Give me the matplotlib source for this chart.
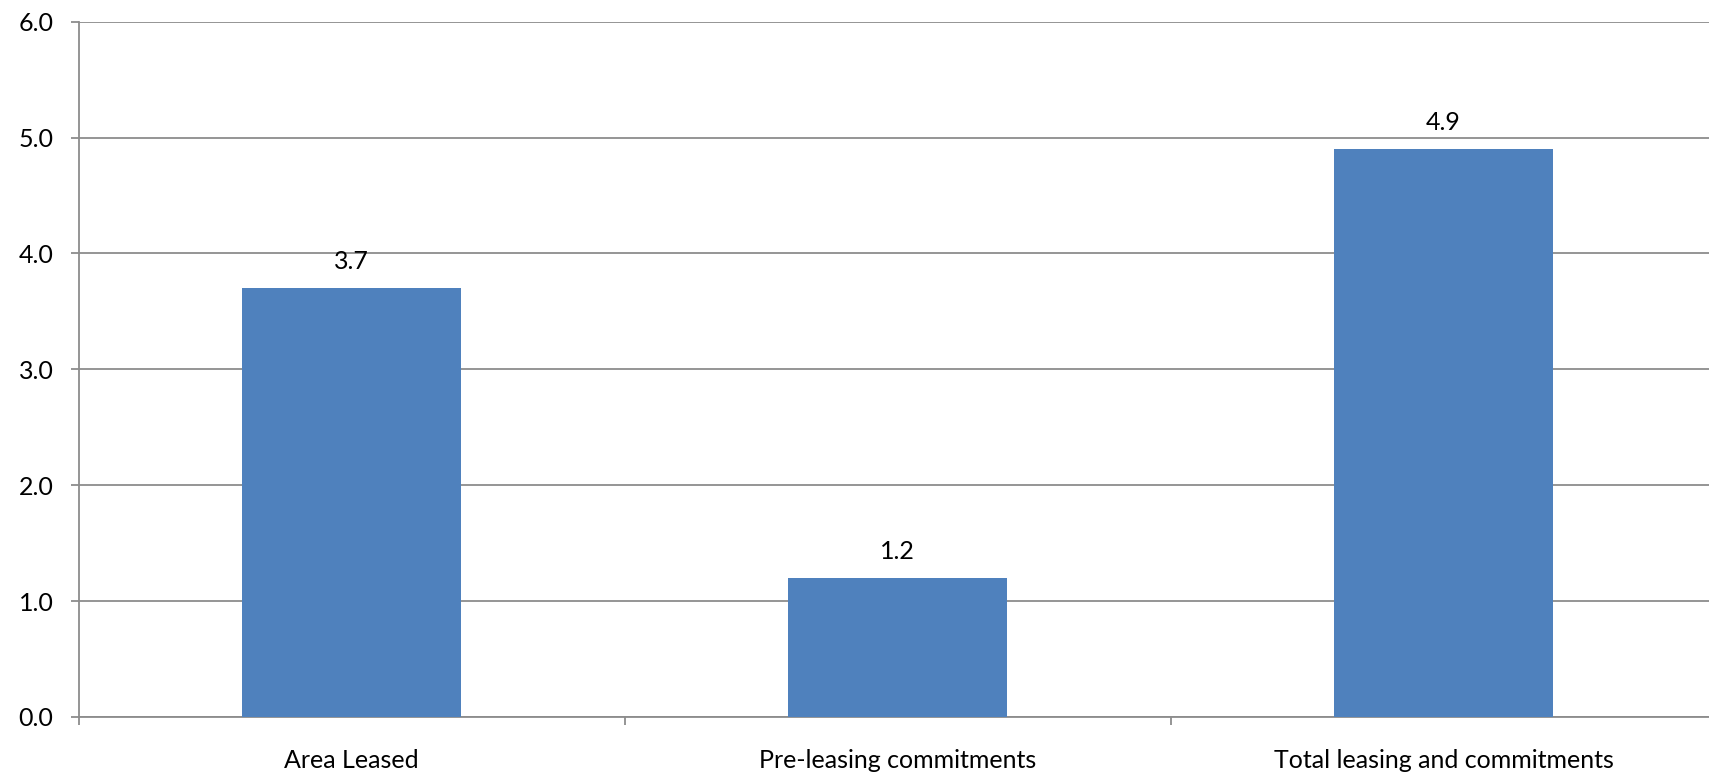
import matplotlib
matplotlib.use("Agg")
import matplotlib.pyplot as plt
from matplotlib.ticker import FixedLocator, FormatStrFormatter

categories = ["Area Leased", "Pre-leasing commitments", "Total leasing and commitments"]
values = [3.7, 1.2, 4.9]

plt.rcParams["font.family"] = ["Lato", "DejaVu Sans"]

W, H = 1709, 776
fig = plt.figure(figsize=(W / 100, H / 100), dpi=100)

# plot area runs past the right edge of the picture, like the reference
left_px, top_px, bottom_px = 78.5, 21.7, 717.0
cat_px = 546.0
ax = fig.add_axes([left_px / W, 1 - bottom_px / H, 1 - left_px / W, (bottom_px - top_px) / H])

grid_col = "#8c8c8c"
bar_col = "#4f81bd"

x = list(range(len(categories)))
ax.bar(x, values, width=0.4, color=bar_col, zorder=3)

for xi, v in zip(x, values):
    ax.annotate(f"{v:.1f}", (xi, v), xytext=(0, 13.5), textcoords="offset points",
                ha="center", va="baseline", fontsize=18, color="black")

ax.set_ylim(0, 6)
ax.set_xlim(-0.5, -0.5 + (W - left_px) / cat_px)
ax.set_yticks([0, 1, 2, 3, 4, 5, 6])
ax.yaxis.set_major_formatter(FormatStrFormatter("%.1f"))
ax.yaxis.grid(True, color=grid_col, linewidth=1.3, zorder=0)

# category boundaries get the tick marks, labels sit at the centers
ax.xaxis.set_major_locator(FixedLocator([-0.5, 0.5, 1.5]))
ax.xaxis.set_minor_locator(FixedLocator(x))
ax.set_xticklabels([], minor=False)
ax.set_xticklabels(categories, minor=True)
ax.tick_params(axis="x", which="major", length=6, width=1.3, color=grid_col, direction="out")
ax.tick_params(axis="x", which="minor", length=0, pad=23, labelsize=18)
ax.tick_params(axis="y", length=6, width=1.3, color=grid_col, direction="out", pad=12, labelsize=18)

for side in ["top", "right"]:
    ax.spines[side].set_visible(False)
for side in ["left", "bottom"]:
    ax.spines[side].set_color(grid_col)
    ax.spines[side].set_linewidth(1.3)
ax.set_axisbelow(True)

fig.savefig("out.png", dpi=100)
